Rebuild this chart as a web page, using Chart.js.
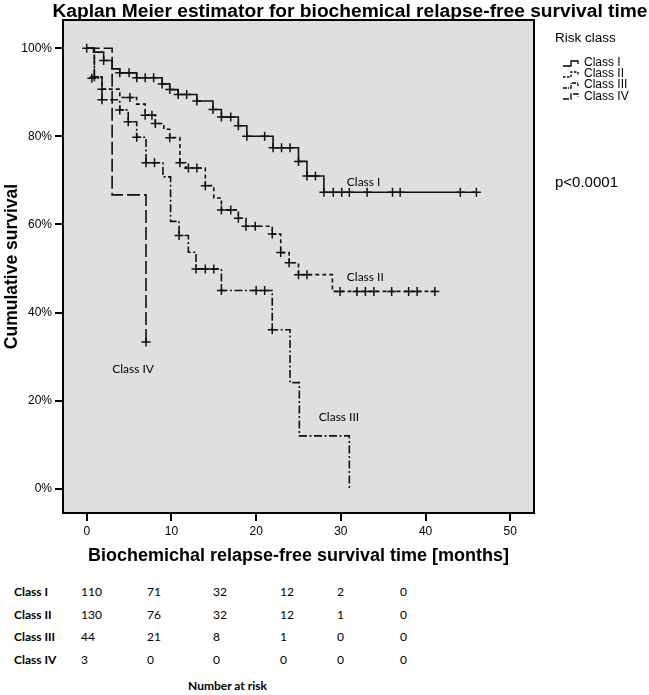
<!DOCTYPE html>
<html>
<head>
<meta charset="utf-8">
<script src="https://cdn.jsdelivr.net/npm/chart.js@4.4.1/dist/chart.umd.min.js"></script>
<style>
  body { margin: 0; background: #fff; font-family: "Liberation Sans", Arial, sans-serif; color: #000; }
  #wrap { position: relative; width: 649px; height: 695px; overflow: hidden; }
  #km { position: absolute; left: 0; top: 0; }
  .abs { position: absolute; white-space: nowrap; }
  #title { left: 50px; width: 600px; top: 0; line-height: 22px; text-align: center; font-weight: bold; font-size: 19.2px; }
  .leg { font-size: 12px; line-height: 12px; left: 562px; }
  .leg svg { vertical-align: middle; margin-right: 2px; }
  .risk { font-family: Lato, "Open Sans", sans-serif; font-size: 12px; line-height: 16px; }
  .risk.lab { font-weight: bold; }
</style>
</head>
<body>
<div id="wrap">
  <canvas id="km" width="649" height="570"></canvas>
  <div id="title" class="abs">Kaplan Meier estimator for biochemical relapse-free survival time</div>
  <div class="abs" style="left:555px;top:30px;font-size:13.5px;line-height:16px;">Risk class</div>
  <div id="legend"></div>
  <div class="abs" style="left:555px;top:172px;font-size:15px;line-height:20px;">p&lt;0.0001</div>
  <div id="riskTable"></div>
</div>
<script>
// === Daten ===
const classNames = ["Class I", "Class II", "Class III", "Class IV"];

// Stufen: Zeit [Monate] und Überleben [%] nach dem Ereignis
const classITimes = [0, 0.8, 2.0, 3.0, 3.9, 5.9, 8.9, 9.8, 10.8, 13.0, 14.9, 15.9, 17.9, 18.9, 22.0, 25.0, 26.0, 28.0, 46.0];
const classISurv  = [100, 99.1, 97.2, 95.3, 94.4, 93.3, 91.9, 90.6, 89.5, 88.0, 86.1, 84.4, 82.4, 80.0, 77.4, 74.3, 71.0, 67.3, 67.3];

const classIITimes = [0, 0.9, 1.8, 3.9, 5.9, 6.9, 8.1, 9.1, 9.8, 11.0, 11.7, 14.0, 15.0, 15.9, 17.9, 18.8, 21.9, 22.9, 23.9, 25.0, 29.0, 41.1];
const classIISurv  = [100, 93.5, 90.7, 88.8, 87.3, 84.8, 82.9, 81.6, 79.7, 74.0, 72.8, 68.8, 66.0, 63.3, 61.4, 59.6, 57.8, 53.6, 51.3, 48.6, 44.8, 44.8];

const classIIITimes = [0, 0.9, 1.8, 3.9, 4.9, 5.9, 7.0, 9.0, 9.9, 10.9, 12.0, 12.9, 15.9, 21.9, 24.0, 25.1, 31.0];
const classIIISurv  = [100, 93.2, 88.3, 86.0, 83.3, 79.8, 74.0, 70.8, 60.7, 57.5, 53.7, 49.9, 45.0, 36.1, 24.1, 12.0, 0];

const classIVTimes = [0, 3.0, 7.0];
const classIVSurv  = [100, 66.7, 33.3];

// Zensierungen (+)
const classICensT = [0, 2.0, 3.9, 5.0, 5.9, 6.9, 7.9, 8.9, 9.8, 10.8, 11.8, 13.0, 14.9, 15.9, 17.0, 17.9, 18.9, 21.0, 22.0, 23.0, 24.0, 25.0, 26.0, 27.0, 28.0, 29.1, 30.1, 31.0, 33.1, 36.1, 37.0, 44.1, 46.0];
const classICensS = [100, 97.2, 94.4, 94.4, 93.3, 93.3, 93.3, 91.9, 90.6, 89.5, 89.5, 88.0, 86.1, 84.4, 84.4, 82.4, 80.0, 80.0, 77.4, 77.4, 77.4, 74.3, 71.0, 71.0, 67.3, 67.3, 67.3, 67.3, 67.3, 67.3, 67.3, 67.3, 67.3];

const classIICensT = [0.9, 1.8, 5.1, 6.9, 7.7, 8.1, 9.8, 11.0, 12.0, 13.0, 14.0, 15.9, 17.0, 17.9, 18.8, 19.9, 21.9, 22.9, 23.9, 25.0, 26.0, 29.9, 31.9, 32.9, 33.9, 36.0, 38.0, 39.0, 41.1];
const classIICensS = [93.5, 90.7, 88.8, 84.8, 84.8, 82.9, 79.7, 74.0, 72.8, 72.8, 68.8, 63.3, 63.3, 61.4, 59.6, 59.6, 57.8, 53.6, 51.3, 48.6, 48.6, 44.8, 44.8, 44.8, 44.8, 44.8, 44.8, 44.8, 44.8];

const classIIICensT = [0.6, 1.8, 3.9, 4.9, 5.9, 7.0, 8.0, 10.9, 12.9, 14.0, 15.0, 15.9, 20.0, 21.0, 21.9];
const classIIICensS = [93.2, 88.3, 86.0, 83.3, 79.8, 74.0, 74.0, 57.5, 49.9, 49.9, 49.9, 45.0, 45.0, 45.0, 36.1];

const classIVCensT = [7.0];
const classIVCensS = [33.3];

// Achsen
const xTicks = [0, 10, 20, 30, 40, 50];
const yTicks = [0, 20, 40, 60, 80, 100];

// Beschriftungen an den Kurven (Datenkoordinaten)
const curveLabelText = ["Class I", "Class II", "Class III", "Class IV"];
const curveLabelX = [30.7, 30.7, 27.4, 3.0];
const curveLabelY = [69.5, 48.0, 16.3, 27.2];

// Number at risk
const riskTimes = [0, 10, 20, 30, 40, 50];
const riskClassI   = [110, 71, 32, 12, 2, 0];
const riskClassII  = [130, 76, 32, 12, 1, 0];
const riskClassIII = [44, 21, 8, 1, 0, 0];
const riskClassIV  = [3, 0, 0, 0, 0, 0];

// === Stile ===
const dashes = [[], [4, 3], [8, 2.5, 2, 2.5], [13, 4]];
const svgDashes = ["", "2.5 1.5", "4 1 1 1", "6 1.5"];

function pts(ts, ss) {
  return ts.map((t, i) => ({ x: t, y: ss[i] }));
}

const stepSets = [
  [classITimes, classISurv],
  [classIITimes, classIISurv],
  [classIIITimes, classIIISurv],
  [classIVTimes, classIVSurv],
];
const censSets = [
  [classICensT, classICensS],
  [classIICensT, classIICensS],
  [classIIICensT, classIIICensS],
  [classIVCensT, classIVCensS],
];

const datasets = [];
stepSets.forEach(([ts, ss], i) => {
  datasets.push({
    label: classNames[i],
    data: pts(ts, ss),
    stepped: "before",
    borderColor: "#111",
    borderWidth: 1.6,
    borderDash: dashes[i],
    pointRadius: 0,
    fill: false,
  });
});
censSets.forEach(([ts, ss], i) => {
  datasets.push({
    label: classNames[i] + " censored",
    data: pts(ts, ss),
    showLine: false,
    pointStyle: "cross",
    pointRadius: 4.5,
    borderColor: "#111",
    borderWidth: 1.5,
  });
});

// Hintergrund, Rahmen und Kurvenbeschriftungen
const framePlugin = {
  id: "frame",
  beforeDatasetsDraw(chart) {
    const { ctx, chartArea: a } = chart;
    ctx.save();
    ctx.fillStyle = "#dfdfdf";
    ctx.fillRect(a.left, a.top, a.right - a.left, a.bottom - a.top);
    ctx.restore();
  },
  afterDatasetsDraw(chart) {
    const { ctx, chartArea: a, scales } = chart;
    ctx.save();
    ctx.strokeStyle = "#000";
    ctx.lineWidth = 2;
    ctx.strokeRect(a.left, a.top, a.right - a.left, a.bottom - a.top);
    ctx.fillStyle = "#000";
    ctx.font = '12px Lato, "Open Sans", sans-serif';
    ctx.textBaseline = "middle";
    ctx.textAlign = "left";
    curveLabelText.forEach((txt, i) => {
      ctx.fillText(txt, scales.x.getPixelForValue(curveLabelX[i]), scales.y.getPixelForValue(curveLabelY[i]));
    });
    ctx.restore();
  },
};

const axisFont = { family: '"Liberation Sans", Arial, sans-serif', size: 12 };

new Chart(document.getElementById("km"), {
  type: "line",
  data: { datasets },
  options: {
    responsive: false,
    animation: false,
    layout: { padding: { top: 20, right: 115, bottom: 3, left: 0 } },
    plugins: { legend: { display: false }, tooltip: { enabled: false } },
    scales: {
      x: {
        type: "linear",
        min: -2.8,
        max: 52.8,
        afterBuildTicks: (s) => { s.ticks = xTicks.map((v) => ({ value: v })); },
        afterFit: (s) => { s.height = 54; },
        grid: { drawOnChartArea: false, tickLength: 8, color: "#000", lineWidth: 2 },
        border: { display: false },
        ticks: { color: "#000", font: axisFont, padding: 3, maxRotation: 0 },
        title: {
          display: true,
          text: "Biochemichal relapse-free survival time [months]",
          color: "#000",
          font: { family: '"Liberation Sans", Arial, sans-serif', size: 18, weight: "bold" },
          padding: { top: 0, bottom: 0 },
        },
      },
      y: {
        min: -5.5,
        max: 106.4,
        afterBuildTicks: (s) => { s.ticks = yTicks.map((v) => ({ value: v })); },
        afterFit: (s) => { s.width = 63; },
        grid: { drawOnChartArea: false, tickLength: 8, color: "#000", lineWidth: 2 },
        border: { display: false },
        ticks: { color: "#000", font: axisFont, padding: 3, callback: (v) => v + "%" },
        title: {
          display: true,
          text: "Cumulative survival",
          color: "#000",
          font: { family: '"Liberation Sans", Arial, sans-serif', size: 17.5, weight: "bold" },
          padding: { top: 2, bottom: 0 },
        },
      },
    },
  },
  plugins: [framePlugin],
});

// === Legende rechts ===
const legendEl = document.getElementById("legend");
classNames.forEach((name, i) => {
  const d = document.createElement("div");
  d.className = "abs leg";
  d.style.top = (56 + i * 11.2) + "px";
  d.innerHTML =
    '<svg width="20" height="10"><path d="M1 8 H9 V3 H16 V6" fill="none" stroke="#000" stroke-width="1.3" stroke-dasharray="' +
    svgDashes[i] + '"/></svg>' + name;
  legendEl.appendChild(d);
});

// === Number at risk ===
const tableEl = document.getElementById("riskTable");
const riskRows = [riskClassI, riskClassII, riskClassIII, riskClassIV];
const riskColX = [81, 147, 213, 280, 337, 400];
riskRows.forEach((row, r) => {
  const top = 584 + r * 22.6;
  const lab = document.createElement("div");
  lab.className = "abs risk lab";
  lab.style.left = "14px";
  lab.style.top = top + "px";
  lab.textContent = classNames[r];
  tableEl.appendChild(lab);
  row.forEach((v, c) => {
    const cell = document.createElement("div");
    cell.className = "abs risk";
    cell.style.left = riskColX[c] + "px";
    cell.style.top = top + "px";
    cell.textContent = v;
    tableEl.appendChild(cell);
  });
});
const nar = document.createElement("div");
nar.className = "abs risk lab";
nar.style.left = "188px";
nar.style.top = "678px";
nar.textContent = "Number at risk";
tableEl.appendChild(nar);
</script>
</body>
</html>
